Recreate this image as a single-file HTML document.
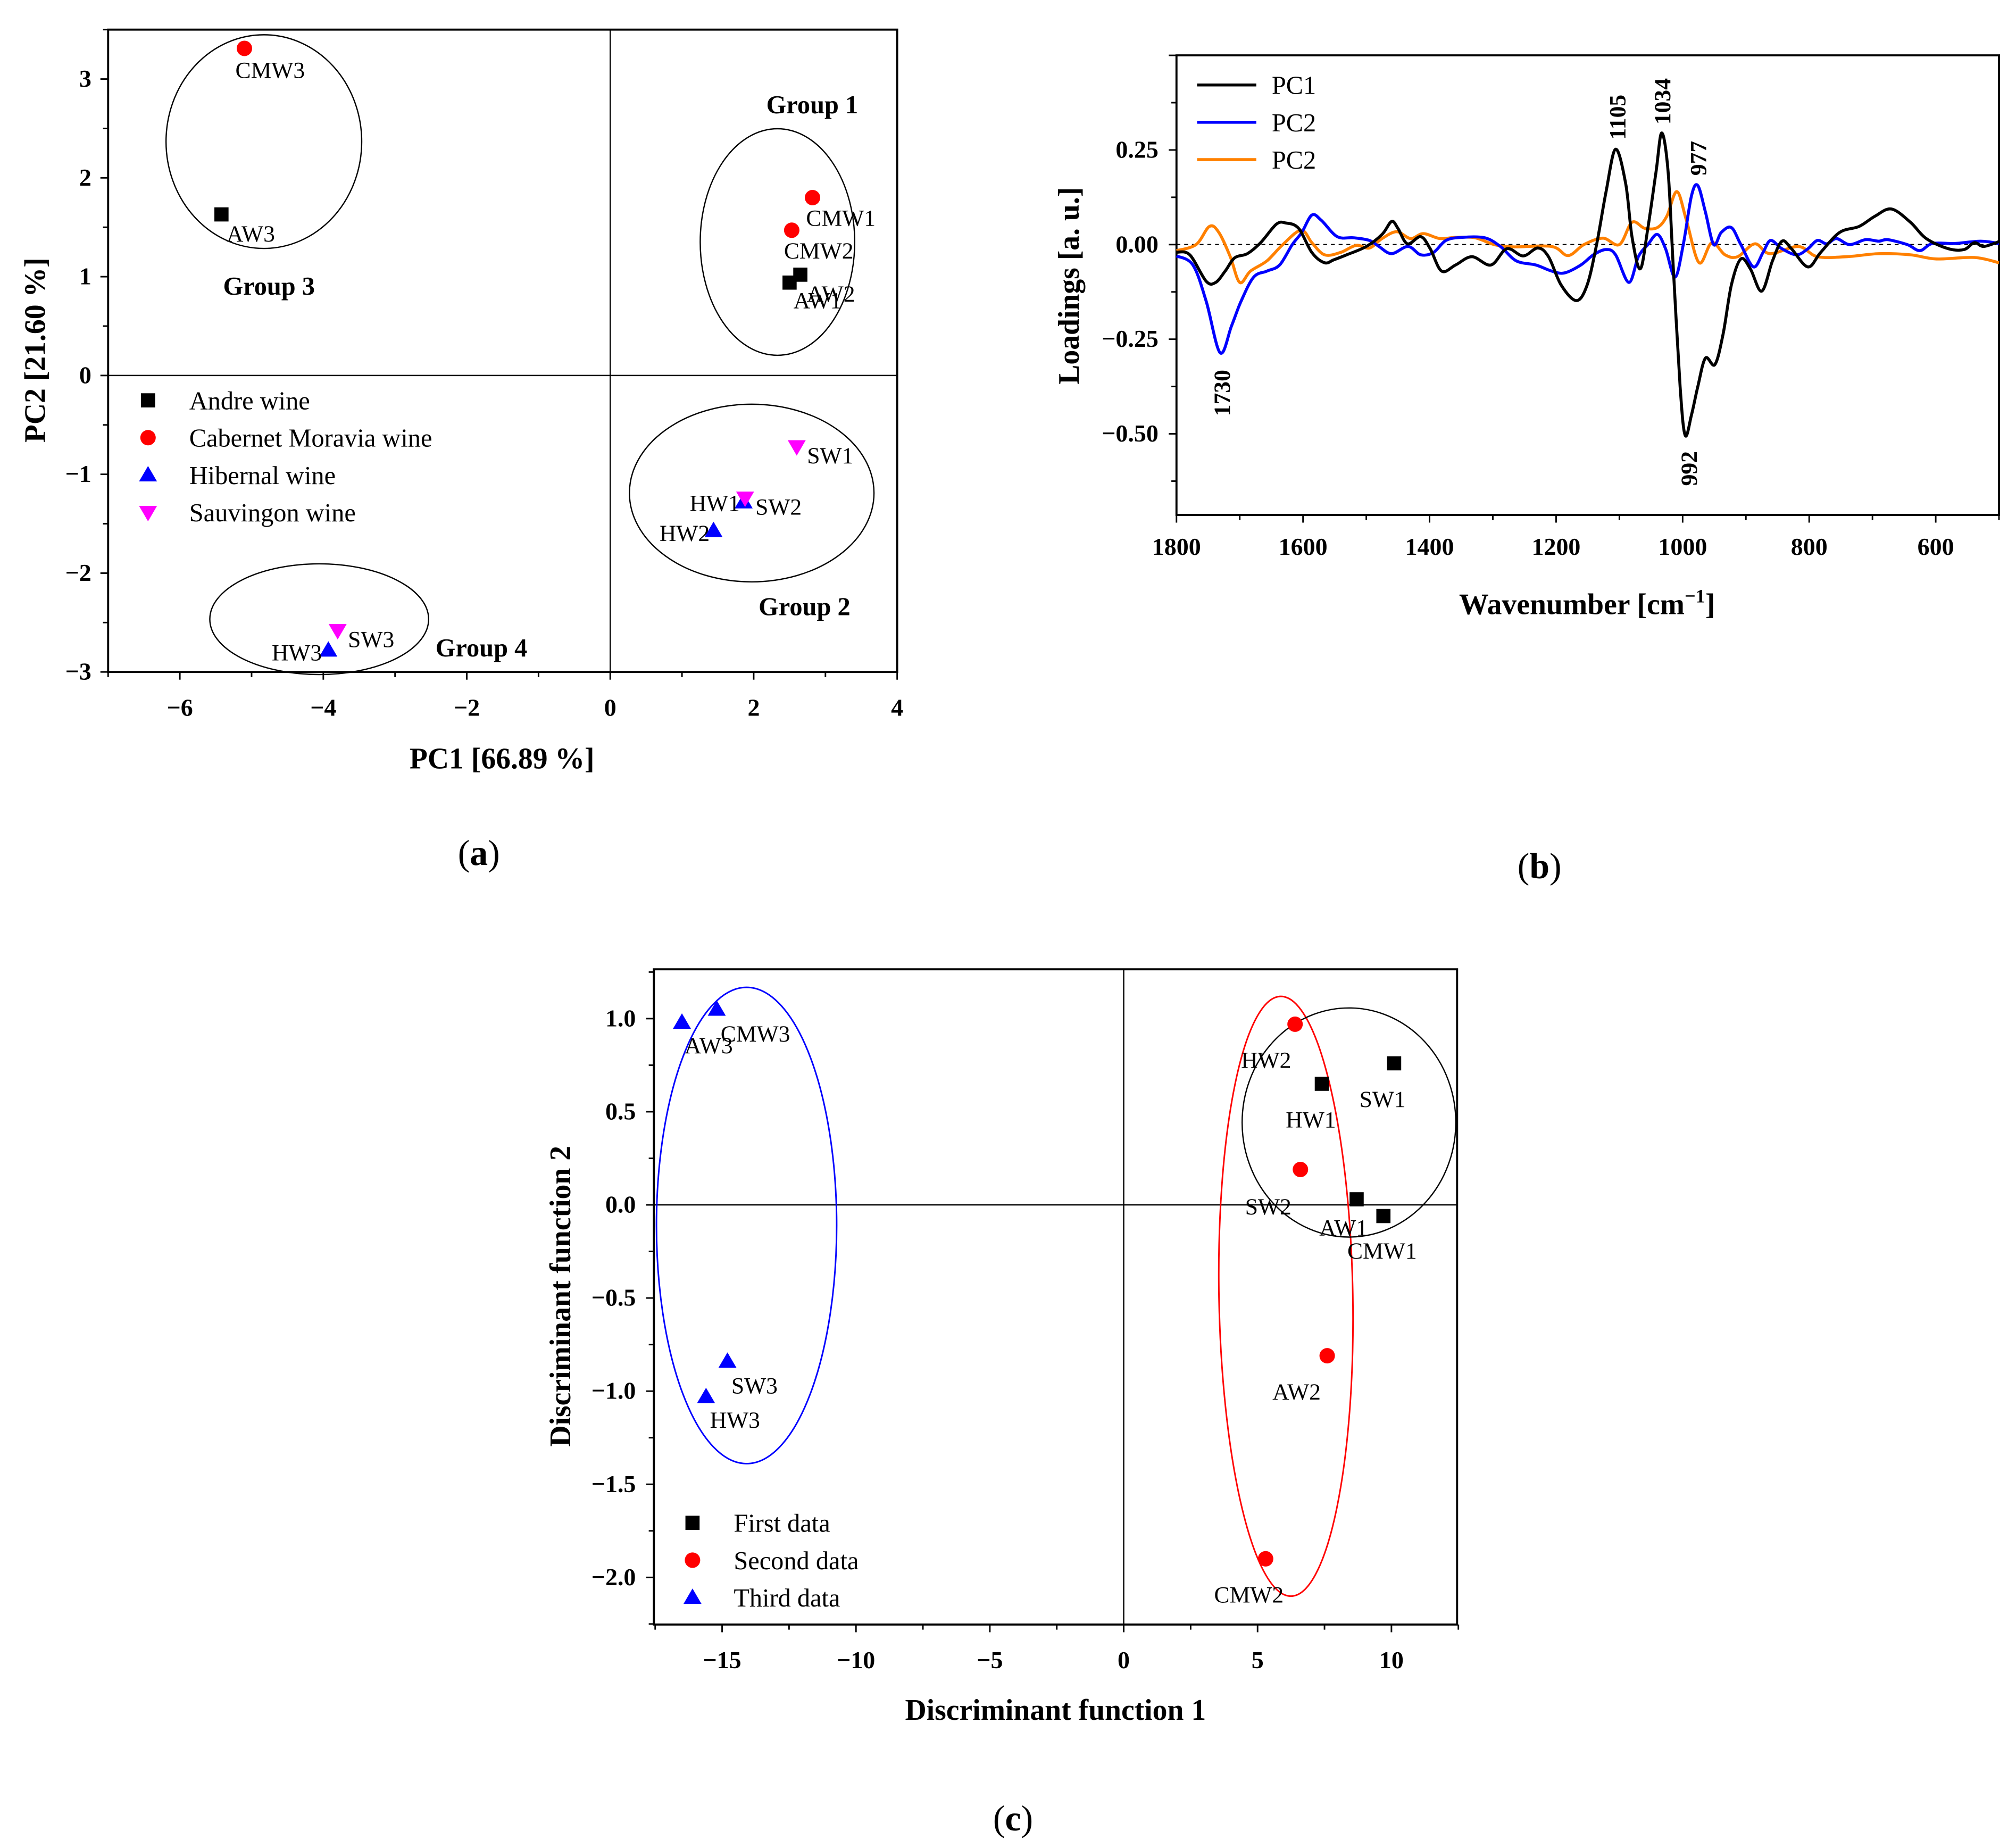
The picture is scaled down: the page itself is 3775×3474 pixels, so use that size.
<!DOCTYPE html>
<html><head><meta charset="utf-8">
<style>html,body{margin:0;padding:0;background:#fff}svg{display:block}text{font-family:"Liberation Serif",serif}</style>
</head><body>
<svg id="fig" xmlns="http://www.w3.org/2000/svg" width="3775" height="3474" viewBox="0 0 1560 1435.6">
<rect width="1560" height="1435.6" fill="#fff"/>
</svg>
<script>
// ---------- Panel (a) data ----------
const aLabels = ["AW1","AW2","AW3","CMW1","CMW2","CMW3","HW1","HW2","HW3","SW1","SW2","SW3"];
const aGroup  = ["A","A","A","C","C","C","H","H","H","S","S","S"];
const aPC1 = [2.50, 2.65, -5.42, 2.82, 2.53, -5.10, 1.86, 1.44, -3.93, 2.60, 1.88, -3.80];
const aPC2 = [0.94, 1.02, 1.63, 1.80, 1.47, 3.31, -1.28, -1.57, -2.78, -0.72, -1.24, -2.58];
const aXTicks = [-6,-4,-2,0,2,4];
const aYTicks = [-3,-2,-1,0,1,2,3];
const aLegend = ["Andre wine","Cabernet Moravia wine","Hibernal wine","Sauvingon wine"];
// ---------- Panel (b) data ----------
const pc1Wn = [1800,1779,1753,1738,1723,1708,1688,1667,1642,1627,1607,1586,1566,1551,1531,1500,1475,1460,1450,1435,1414,1399,1381,1359,1333,1303,1278,1252,1229,1212,1192,1168,1151,1136,1121,1106,1090,1080,1067,1055,1042,1033,1023,1015,1004,996,986,976,964,949,936,923,908,893,875,858,843,828,802,782,752,721,696,670,640,615,580,555,539,524,500];
const pc1Val = [-0.02,-0.027,-0.097,-0.10,-0.07,-0.035,-0.024,0.005,0.054,0.057,0.043,-0.021,-0.048,-0.04,-0.027,-0.005,0.027,0.061,0.043,0.002,0.021,-0.011,-0.07,-0.054,-0.032,-0.054,-0.011,-0.03,-0.009,-0.032,-0.107,-0.148,-0.107,0.0,0.14,0.252,0.161,0.02,-0.064,0.043,0.193,0.295,0.193,-0.054,-0.375,-0.504,-0.45,-0.375,-0.30,-0.317,-0.236,-0.107,-0.038,-0.064,-0.123,-0.043,0.009,-0.011,-0.059,-0.021,0.032,0.048,0.075,0.094,0.059,0.016,-0.011,-0.013,0.005,-0.005,0.008];
const pc2Wn = [1800,1774,1753,1731,1713,1698,1678,1657,1637,1617,1602,1586,1571,1546,1520,1495,1480,1460,1434,1414,1394,1374,1349,1313,1288,1263,1232,1207,1187,1161,1141,1121,1106,1085,1070,1055,1040,1027,1012,999,986,976,964,951,939,923,908,888,873,861,843,820,802,787,772,757,736,711,690,676,645,625,605,569,529,500];
const pc2Val = [-0.03,-0.054,-0.15,-0.286,-0.215,-0.15,-0.086,-0.07,-0.054,0.0,0.032,0.078,0.064,0.021,0.018,0.011,-0.005,-0.024,-0.005,-0.027,-0.021,0.011,0.019,0.018,-0.005,-0.043,-0.054,-0.07,-0.075,-0.054,-0.027,-0.013,-0.027,-0.10,-0.032,0.0,0.027,-0.011,-0.086,0.0,0.129,0.156,0.086,0.0,0.032,0.045,0.0,-0.059,-0.021,0.011,-0.011,-0.027,-0.011,0.011,0.002,0.016,0.0,0.013,0.009,0.013,0.0,-0.016,0.003,0.003,0.009,0.003];
const pc3Wn = [1800,1769,1748,1733,1715,1700,1683,1657,1632,1603,1586,1566,1541,1516,1495,1475,1452,1430,1410,1384,1359,1328,1298,1268,1207,1181,1156,1126,1100,1080,1060,1040,1025,1009,994,974,954,933,913,886,862,817,787,741,690,640,599,539,500];
const pc3Val = [-0.016,0.0,0.048,0.032,-0.032,-0.10,-0.07,-0.043,0.0,0.038,0.005,-0.027,-0.021,-0.002,-0.009,0.016,0.034,0.016,0.029,0.016,0.019,0.018,0.0,-0.006,-0.005,-0.029,0.0,0.017,0.0,0.059,0.043,0.045,0.075,0.14,0.064,-0.048,0.005,-0.027,-0.032,0.002,-0.024,-0.005,-0.032,-0.032,-0.024,-0.027,-0.038,-0.034,-0.048];
const bXTicks = [1800,1600,1400,1200,1000,800,600];
const bYTicks = [-0.5,-0.25,0,0.25];
const bYTickText = ["\u22120.50","\u22120.25","0.00","0.25"];
const bPeaks = [1730,1105,1034,977,992];
// ---------- Panel (c) data ----------
const cLabels = ["SW1","HW1","AW1","CMW1","HW2","SW2","AW2","CMW2","AW3","CMW3","SW3","HW3"];
const cSet    = [1,1,1,1,2,2,2,2,3,3,3,3];
const cDF1 = [10.1, 7.4, 8.7, 9.7, 6.4, 6.6, 7.6, 5.3, -16.5, -15.2, -14.8, -15.6];
const cDF2 = [0.76, 0.65, 0.03, -0.06, 0.97, 0.19, -0.81, -1.90, 0.98, 1.05, -0.84, -1.03];
const cXTicks = [-15,-10,-5,0,5,10];
const cYTicks = [-2,-1.5,-1,-0.5,0,0.5,1];
const cLegend = ["First data","Second data","Third data"];

const NS="http://www.w3.org/2000/svg";
const svg=document.getElementById('fig');
const TF=19, TT=23;
function el(tag,attrs,parent,txt){const e=document.createElementNS(NS,tag);for(const k in attrs)e.setAttribute(k,attrs[k]);if(txt!==undefined)e.textContent=txt;(parent||svg).appendChild(e);return e;}
function fmtMinus(v,d){const s=Math.abs(v).toFixed(d);return v<0?"\u2212"+s:s;}
function marker(g,shape,x,y,color,name){
  let m;
  if(shape==='sq') m=el('rect',{x:x-5.5,y:y-5.5,width:11,height:11,fill:color},g);
  else if(shape==='ci') m=el('circle',{cx:x,cy:y,r:6,fill:color},g);
  else if(shape==='up') m=el('polygon',{points:`${x},${y-7} ${x-7},${y+5} ${x+7},${y+5}`,fill:color},g);
  else m=el('polygon',{points:`${x},${y+7} ${x-7},${y-5} ${x+7},${y-5}`,fill:color},g);
  
  
  return m;
}
function axesBox(g,L,T,R,B){el('rect',{x:L,y:T,width:R-L,height:B-T,fill:'none',stroke:'#000','stroke-width':1.6},g);}

// ===================== Panel A =====================
(function(){
  const g=el('g',{});
  
  
  const L=84,R=697,T=23,B=522;
  const xs=v=>L+(v+7)/11*(R-L);
  const ys=v=>B-(v+3)/6.5*(B-T);
  axesBox(g,L,T,R,B);
  el('line',{x1:xs(0),x2:xs(0),y1:T,y2:B,stroke:'#000','stroke-width':1},g);
  el('line',{x1:L,x2:R,y1:ys(0),y2:ys(0),stroke:'#000','stroke-width':1},g);
  for(let v=-7;v<=4;v++){const maj=v%2===0;el('line',{x1:xs(v),x2:xs(v),y1:B,y2:B+(maj?6:4),stroke:'#000','stroke-width':1.2},g);}
  aXTicks.forEach(v=>{const t=el('text',{x:xs(v),y:B+34,'text-anchor':'middle','font-size':TF,'font-weight':'bold'},g,fmtMinus(v,0));});
  for(let v=-3;v<=3.5;v+=0.5){const maj=Number.isInteger(v);el('line',{x1:L,x2:L-(maj?6:4),y1:ys(v),y2:ys(v),stroke:'#000','stroke-width':1.2},g);}
  aYTicks.forEach(v=>{const t=el('text',{x:L-13,y:ys(v)+6,'text-anchor':'end','font-size':TF,'font-weight':'bold'},g,fmtMinus(v,0));});
  let t=el('text',{x:390,y:597,'text-anchor':'middle','font-size':TT,'font-weight':'bold'},g,'PC1 [66.89 %]');
  t=el('text',{x:0,y:0,transform:'translate(35,272) rotate(-90)','text-anchor':'middle','font-size':TT,'font-weight':'bold'},g,'PC2 [21.60 %]');
  [[205,110,76,83],[604,188,60,88],[584,383,95,69],[248,481,85,43]].forEach((e,i)=>{const q=el('ellipse',{cx:e[0],cy:e[1],rx:e[2],ry:e[3],fill:'none',stroke:'#000','stroke-width':1},g);});
  [['Group 1',631,88],['Group 3',209,229],['Group 2',625,478],['Group 4',374,510]].forEach(a=>{const q=el('text',{x:a[1],y:a[2],'text-anchor':'middle','font-size':20,'font-weight':'bold'},g,a[0]);});
  const shp={A:'sq',C:'ci',H:'up',S:'dn'},col={A:'#000',C:'#f00',H:'#00f',S:'#f0f'};
  const lab={AW1:[3,20,'start'],AW2:[5,21,'start'],AW3:[4,21,'start'],CMW1:[-5,22,'start'],CMW2:[-6,22,'start'],CMW3:[-7,23,'start'],HW1:[-3,7,'end'],HW2:[-3,8,'end'],HW3:[-5,8,'end'],SW1:[8,13,'start'],SW2:[8,13,'start'],SW3:[8,13,'start']};
  aLabels.forEach((n,i)=>{const x=xs(aPC1[i]),y=ys(aPC2[i]);marker(g,shp[aGroup[i]],x,y,col[aGroup[i]],'point-'+n.toLowerCase());const o=lab[n];const q=el('text',{x:x+o[0],y:y+o[1],'text-anchor':o[2],'font-size':18},g,n);});
  const lk=['A','C','H','S'];
  aLegend.forEach((s,i)=>{const y=311+i*29;marker(g,shp[lk[i]],115,y,col[lk[i]],'legend-marker');const q=el('text',{x:147,y:y+7,'font-size':20},g,s);});
  t=el('text',{x:372,y:672,'text-anchor':'middle','font-size':28},g,'(');
  el('tspan',{'font-weight':'bold'},t,'a');el('tspan',{},t,')');
})();

// ===================== Panel B =====================
(function(){
  const g=el('g',{});
  
  
  const L=914,R=1553,T=43,B=400;
  const xs=w=>L+(1800-w)/1300*(R-L);
  const ys=v=>190-v*294;
  axesBox(g,L,T,R,B);
  el('line',{x1:L,x2:R,y1:ys(0),y2:ys(0),stroke:'#000','stroke-width':1,'stroke-dasharray':'3,3'},g);
  for(let w=1800;w>=500;w-=100){const maj=w%200===0;el('line',{x1:xs(w),x2:xs(w),y1:B,y2:B+(maj?6:4),stroke:'#000','stroke-width':1.2},g);}
  bXTicks.forEach(w=>{const t=el('text',{x:xs(w),y:B+31,'text-anchor':'middle','font-size':TF,'font-weight':'bold'},g,String(w));});
  for(let v=-0.625;v<=0.5;v+=0.125){const maj=Math.abs(v*4-Math.round(v*4))<1e-6;el('line',{x1:L,x2:L-(maj?6:4),y1:ys(v),y2:ys(v),stroke:'#000','stroke-width':1.2},g);}
  bYTicks.forEach((v,i)=>{const t=el('text',{x:L-14,y:ys(v)+6,'text-anchor':'end','font-size':TF,'font-weight':'bold'},g,bYTickText[i]);});
  let t=el('text',{x:1233,y:477,'text-anchor':'middle','font-size':TT,'font-weight':'bold'},g,'Wavenumber [cm');
  
  el('tspan',{dy:-9,'font-size':15},t,'\u22121');el('tspan',{dy:9},t,']');
  t=el('text',{x:0,y:0,transform:'translate(838,222) rotate(-90)','text-anchor':'middle','font-size':TT,'font-weight':'bold'},g,'Loadings [a. u.]');
  function curve(wn,val,color,name){
    const P=wn.map((w,i)=>[xs(w),ys(val[i])]);
    let d='M'+P[0][0].toFixed(2)+','+P[0][1].toFixed(2);
    for(let i=0;i<P.length-1;i++){
      const p0=P[Math.max(0,i-1)],p1=P[i],p2=P[i+1],p3=P[Math.min(P.length-1,i+2)];
      const c1=[p1[0]+(p2[0]-p0[0])/6,p1[1]+(p2[1]-p0[1])/6];
      const c2=[p2[0]-(p3[0]-p1[0])/6,p2[1]-(p3[1]-p1[1])/6];
      d+='C'+c1[0].toFixed(2)+','+c1[1].toFixed(2)+' '+c2[0].toFixed(2)+','+c2[1].toFixed(2)+' '+p2[0].toFixed(2)+','+p2[1].toFixed(2);
    }
    const p=el('path',{d:d,fill:'none',stroke:color,'stroke-width':2.3,'stroke-linejoin':'round'},g);}
  curve(pc3Wn,pc3Val,'#ff8000','pc3-line');
  curve(pc2Wn,pc2Val,'#0000ff','pc2-line');
  curve(pc1Wn,pc1Val,'#000000','pc1-line');
  const lg=[['PC1','#000'],['PC2','#00f'],['PC2','#ff8000']];
  lg.forEach((a,i)=>{const y=66+i*29;const l=el('line',{x1:930,x2:976,y1:y,y2:y,stroke:a[1],'stroke-width':2.3},g);const q=el('text',{x:988,y:y+7,'font-size':20},g,a[0]);});
  bPeaks.forEach(w=>{let x=xs(w)+7, y;
    if(w===1730||w===992){y=ys(w===1730?-0.29:-0.505)+12; }else{y=ys(w===1105?0.25:w===1034?0.29:0.155)-8;}
    let anchor=(w===1730||w===992)?'end':'start';
    const q=el('text',{x:0,y:0,transform:`translate(${x},${y}) rotate(-90)`,'text-anchor':anchor,'font-size':18,'font-weight':'bold'},g,String(w));});
  t=el('text',{x:1196,y:682,'text-anchor':'middle','font-size':28},g,'(');
  el('tspan',{'font-weight':'bold'},t,'b');el('tspan',{},t,')');
})();

// ===================== Panel C =====================
(function(){
  const g=el('g',{});
  
  
  const L=508,R=1132,T=753,B=1262;
  const xs=v=>873+v*20.8;
  const ys=v=>936-v*144.7;
  axesBox(g,L,T,R,B);
  el('line',{x1:xs(0),x2:xs(0),y1:T,y2:B,stroke:'#000','stroke-width':1},g);
  el('line',{x1:L,x2:R,y1:ys(0),y2:ys(0),stroke:'#000','stroke-width':1},g);
  for(let v=-17.5;v<=12.5;v+=2.5){const maj=v%5===0;el('line',{x1:xs(v),x2:xs(v),y1:B,y2:B+(maj?6:4),stroke:'#000','stroke-width':1.2},g);}
  cXTicks.forEach(v=>{const t=el('text',{x:xs(v),y:B+34,'text-anchor':'middle','font-size':TF,'font-weight':'bold'},g,fmtMinus(v,0));});
  for(let v=-2.25;v<=1.25;v+=0.25){const maj=Math.abs(v*2-Math.round(v*2))<1e-6;el('line',{x1:L,x2:L-(maj?6:4),y1:ys(v),y2:ys(v),stroke:'#000','stroke-width':1.2},g);}
  cYTicks.forEach(v=>{const t=el('text',{x:L-14,y:ys(v)+6,'text-anchor':'end','font-size':TF,'font-weight':'bold'},g,fmtMinus(v,1));});
  let t=el('text',{x:820,y:1336,'text-anchor':'middle','font-size':TT,'font-weight':'bold'},g,'Discriminant function 1');
  t=el('text',{x:0,y:0,transform:'translate(443,1007) rotate(-90)','text-anchor':'middle','font-size':TT,'font-weight':'bold'},g,'Discriminant function 2');
  let q=el('ellipse',{cx:580,cy:952,rx:70,ry:185,fill:'none',stroke:'#00f','stroke-width':1.2},g);
  q=el('ellipse',{cx:999,cy:1007,rx:52,ry:233,fill:'none',stroke:'#f00','stroke-width':1.2,transform:'rotate(-1 999 1007)'},g);
  q=el('ellipse',{cx:1048,cy:872,rx:83,ry:89,fill:'none',stroke:'#000','stroke-width':1},g);
  const shp={1:'sq',2:'ci',3:'up'},col={1:'#000',2:'#f00',3:'#00f'};
  const lab={SW1:[-27,34,'start'],HW1:[-28,34,'start'],AW1:[-29,28,'start'],CMW1:[-28,33,'start'],HW2:[-3,34,'end'],SW2:[-7,35,'end'],AW2:[-5,34,'end'],CMW2:[14,34,'end'],AW3:[2,24,'start'],CMW3:[3,25,'start'],SW3:[3,25,'start'],HW3:[3,24,'start']};
  cLabels.forEach((n,i)=>{const x=xs(cDF1[i]),y=ys(cDF2[i]);marker(g,shp[cSet[i]],x,y,col[cSet[i]],'point-'+n.toLowerCase());const o=lab[n];const k=el('text',{x:x+o[0],y:y+o[1],'text-anchor':o[2],'font-size':18},g,n);});
  cLegend.forEach((s,i)=>{const y=1183+i*29;marker(g,shp[i+1],538,y,col[i+1],'legend-marker');const k=el('text',{x:570,y:y+7,'font-size':20},g,s);});
  t=el('text',{x:787,y:1422,'text-anchor':'middle','font-size':28},g,'(');
  el('tspan',{'font-weight':'bold'},t,'c');el('tspan',{},t,')');
})();
</script>
</body></html>
